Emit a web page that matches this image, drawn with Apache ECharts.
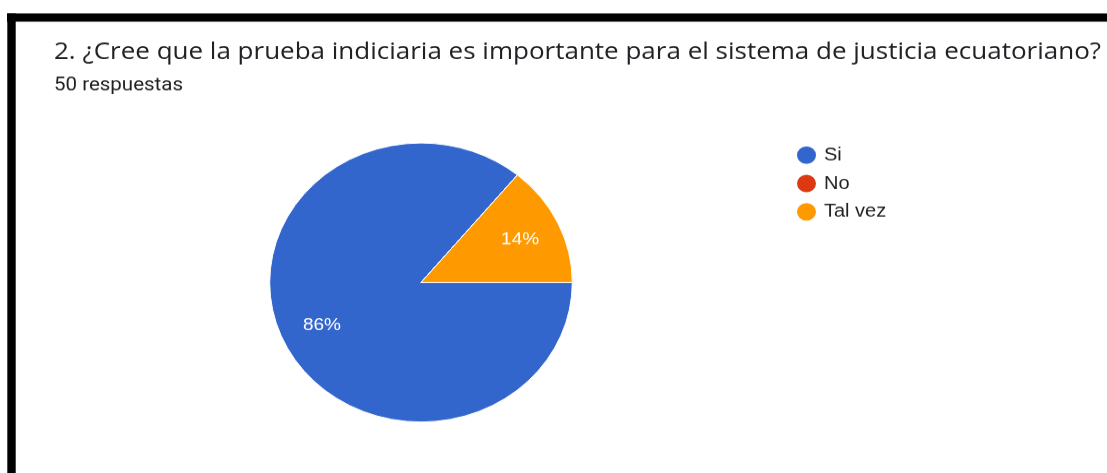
<!DOCTYPE html>
<html>
<head>
<meta charset="utf-8">
<script src="https://cdn.jsdelivr.net/npm/echarts@6/dist/echarts.min.js"></script>
<style>
html,body{margin:0;padding:0;background:#fff;overflow:hidden;width:1107px;height:473px;}
#chart{width:1107px;height:513px;transform:scaleY(0.922);transform-origin:0 0;}
</style>
</head>
<body>
<div id="chart"></div>
<script>
const titleText = '2. ¿Cree que la prueba indiciaria es importante para el sistema de justicia ecuatoriano?';
const subtitleText = '50 respuestas';
const categories = ['Si', 'No', 'Tal vez'];
const responses = [43, 0, 7];
const colors = ['#3366cc', '#dc3912', '#ff9900'];

const pieData = categories.map((c, i) => ({ name: c, value: responses[i], itemStyle: { color: colors[i] } }));
const labelData = categories.map((c, i) => ({ name: c, value: responses[i] }));

const chart = echarts.init(document.getElementById('chart'), null, { renderer: 'canvas' });
chart.setOption({
  animation: false,
  backgroundColor: '#fff',
  title: [
    { text: titleText, left: 49, top: 38.5,
      textStyle: { fontFamily: 'Open Sans', fontSize: 26, fontWeight: 'normal', color: '#202124' } },
    { text: subtitleText, left: 49, top: 77.5,
      textStyle: { fontFamily: 'Roboto', fontSize: 20.5, fontWeight: 'normal', color: '#202124' } }
  ],
  legend: {
    data: categories,
    orient: 'vertical',
    left: 790,
    top: 151.7,
    icon: 'circle',
    itemWidth: 21,
    itemHeight: 21,
    itemGap: 7.8,
    selectedMode: false,
    textStyle: { fontFamily: 'Liberation Sans, Arial', fontSize: 20, color: '#222222', padding: [0, 0, 0, 2] }
  },
  graphic: [
    { type: 'rect', shape: { x: 7, y: 14.4, width: 1100, height: 9.2 }, style: { fill: '#000' }, silent: true },
    { type: 'rect', shape: { x: 7.3, y: 14.4, width: 8.4, height: 500 }, style: { fill: '#000' }, silent: true }
  ],
  series: [
    {
      type: 'pie',
      center: [421, 306.4],
      radius: [0, 151.3],
      startAngle: 0,
      clockwise: true,
      avoidLabelOverlap: false,
      label: { show: false },
      labelLine: { show: false },
      itemStyle: { borderColor: '#fff', borderWidth: 1 },
      emphasis: { disabled: true },
      data: pieData
    },
    {
      type: 'pie',
      center: [421, 306.4],
      radius: [0, 213],
      startAngle: 0,
      clockwise: true,
      silent: true,
      avoidLabelOverlap: false,
      itemStyle: { color: 'rgba(0,0,0,0)' },
      emphasis: { disabled: true },
      label: {
        show: true,
        position: 'inside',
        color: '#fff',
        fontFamily: 'Liberation Sans, Arial',
        fontSize: 19,
        formatter: p => p.value ? Math.round(p.percent) + '%' : ''
      },
      labelLine: { show: false },
      data: labelData
    }
  ]
});
</script>
</body>
</html>
